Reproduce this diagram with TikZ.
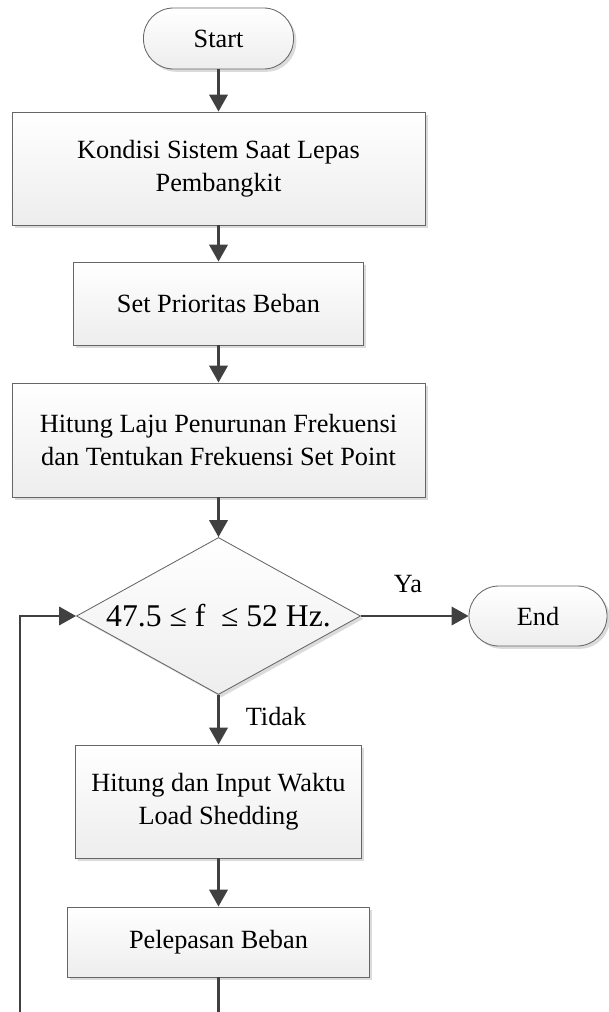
\documentclass[tikz,border=0pt]{standalone}
\usepackage{fontspec}
\setmainfont{Liberation Serif}
\usetikzlibrary{arrows.meta,shapes.geometric,shadows}

\tikzset{
	proc/.style={draw=gray!80!black, line width=0.6pt, top color=white, bottom color=gray!14,
		drop shadow={shadow xshift=2pt, shadow yshift=-2pt, fill=gray!35, opacity=0.8},
		align=center, inner sep=2pt, font=\fontsize{18.7}{23.5}\selectfont},
	term/.style={proc, rounded corners=0.75cm},
	decide/.style={proc, diamond, inner sep=0pt},
	bigtext/.style={font=\fontsize{22.5}{26}\selectfont},
	flow/.style={draw=black!75, line width=1.8pt, -{Triangle[length=12pt,width=13pt]}},
	plain/.style={draw=black!75, line width=1.8pt},
	lbl/.style={font=\fontsize{18.7}{23.5}\selectfont}
}

\begin{document}
\begin{tikzpicture}[x=0.025cm, y=-0.025cm]
	\useasboundingbox (0,0) rectangle (608,1012);

	\node[term, minimum width=3.75cm, minimum height=1.525cm] (start) at (218.5,38.5) {Start};
	\node[proc, minimum width=10.325cm, minimum height=2.825cm] (cond) at (218.5,168.5) {Kondisi Sistem Saat Lepas\\Pembangkit};
	\node[proc, minimum width=7.25cm, minimum height=2.075cm] (prio) at (218.5,303.5) {Set Prioritas Beban};
	\node[proc, minimum width=10.325cm, minimum height=2.85cm] (calc) at (218.5,440) {Hitung Laju Penurunan Frekuensi\\dan Tentukan Frekuensi Set Point};
	\node[decide, minimum width=7.1cm, minimum height=3.925cm,
		label={[bigtext]center:47.5 ≤ f \ ≤ 52 Hz.}] (check) at (218.5,616) {};
	\node[term, minimum width=3.45cm, minimum height=1.5cm] (finish) at (538,616) {End};
	\node[proc, minimum width=7.15cm, minimum height=2.825cm] (timing) at (218.5,801.5) {Hitung dan Input Waktu\\Load Shedding};
	\node[proc, minimum width=7.55cm, minimum height=1.75cm] (shed) at (218.5,942) {Pelepasan Beban};

	\node[lbl] (yes) at (408,584) {Ya};
	\node[lbl] (no) at (276,716) {Tidak};

	\coordinate (bottomR) at (218.5,1012);
	\coordinate (bottomL) at (20,1012);

	\draw[flow] (start) -- (cond);
	\draw[flow] (cond) -- (prio);
	\draw[flow] (prio) -- (calc);
	\draw[flow] (calc) -- (check);
	\draw[flow] (check) -- (finish);
	\draw[flow] (check) -- (timing);
	\draw[flow] (timing) -- (shed);
	\draw[plain] (shed) -- (bottomR);
	\draw[flow] (bottomL) |- (check.west);
\end{tikzpicture}
\end{document}
